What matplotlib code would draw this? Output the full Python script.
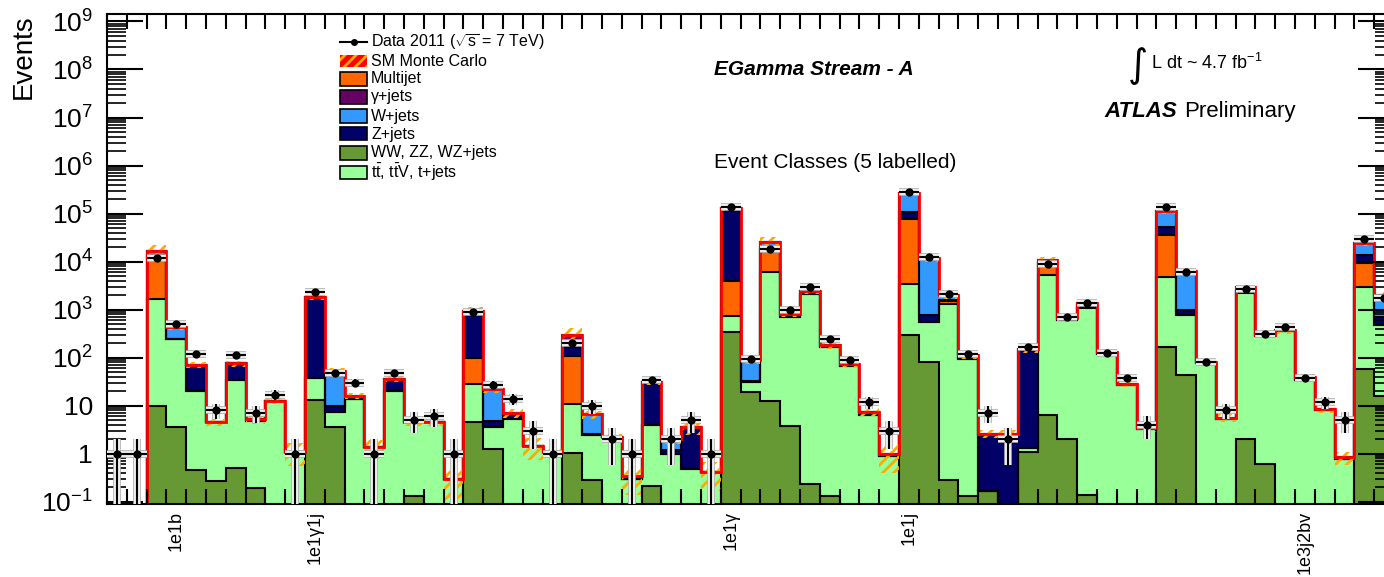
import numpy as np
import matplotlib
matplotlib.use("Agg")
import matplotlib.pyplot as plt
from matplotlib.patches import Rectangle
from matplotlib.lines import Line2D
from matplotlib.ticker import FixedLocator, FixedFormatter, NullFormatter

plt.rcParams['font.family'] = ['Liberation Sans', 'DejaVu Sans']
plt.rcParams['mathtext.fontset'] = 'custom'
plt.rcParams['mathtext.rm'] = 'Liberation Sans'
plt.rcParams['mathtext.it'] = 'Liberation Sans:italic'
plt.rcParams['mathtext.bf'] = 'Liberation Sans:bold'
plt.rcParams['hatch.linewidth'] = 2.0

# --- event classes (65 bins), contributions per process ---
n_bins = 65
ww_zz = [0, 0, 10, 3.6, 0.47, 0.27, 0.5, 0.19, 0, 0,
         13, 3.6, 0, 0, 0, 0.13, 0, 0, 4.6, 1.28,
         0, 0, 0, 1.04, 0.28, 0, 0, 0.21, 0, 0,
         0, 345, 19.4, 12.6, 3.8, 0.23, 0.13, 0, 0, 0,
         303, 81, 0.29, 0.13, 0.17, 0, 1.09, 6.5, 2.07, 0.14,
         0, 0, 0, 168, 43, 0, 0, 2.07, 0.6, 0,
         0, 0, 0, 57, 15.8]
ttbar = [0, 0, 1640, 239, 19.8, 4.3, 33.5, 4.6, 12.6, 1.1,
         24, 3.8, 14, 1.4, 20, 4.5, 4.6, 0.3, 24.4, 2.3,
         5.2, 1.45, 1.1, 9.7, 2.15, 2.2, 0.3, 3.85, 1.0, 0.48,
         0.42, 388, 11.6, 6090, 686, 2080, 168, 67.5, 6.3, 0.9,
         3200, 479, 1340, 92, 0, 0, 0.21, 5190, 603, 1090,
         118, 26.8, 3.35, 4630, 724, 78, 5.4, 2170, 284, 357,
         34, 8.1, 0.79, 2940, 459]
multijet = [0, 0, 12350, 0, 0, 0, 0, 0, 0, 0,
            0, 0, 0, 0, 0, 0, 0, 0, 71, 0,
            0, 0, 0, 96, 0, 0, 0, 0, 0, 0,
            0, 3170, 0, 11900, 0, 0, 0, 0, 0, 0,
            75500, 0, 160, 0, 0, 0, 0, 4300, 0, 110,
            0, 0, 0, 30800, 0, 0, 0, 230, 0, 0,
            0, 0, 0, 6150, 0]
z_jets = [0, 0, 0, 0, 51.7, 0, 42, 0.2, 0, 0,
          1813, 2.4, 0, 0, 16, 0, 0, 0, 700, 1.2,
          1.4, 0, 0, 61, 0.17, 0, 0, 27, 0.2, 3.0,
          0, 124100, 2, 500, 40, 390, 7, 4.5, 1.2, 0,
          31000, 210, 100, 8, 2.33, 2.5, 143.7, 0, 35, 100,
          7, 0, 0, 17400, 208, 0, 0, 200, 0, 0,
          0, 0, 0, 4450, 225]
w_jets = [0, 0, 2800, 194, 0, 0, 0, 0.2, 0, 0,
          0, 43, 2, 0, 0, 0, 0, 0, 150, 17.2,
          0, 0, 0, 0, 4.0, 0, 0, 0, 0.8, 0.1,
          0, 0, 56, 7300, 100, 0, 5, 3.5, 0, 0.1,
          154000, 10930, 400, 13, 0.1, 0.1, 5, 1200, 30, 80,
          5, 2.2, 0.15, 61000, 5425, 2, 0.2, 300, 16, 13,
          5, 0.4, 0.06, 11000, 1300]
gamma_jets = [0] * 20 + [0.4, 0, 0, 135, 0, 0, 0.05] + [0] * 38
mc_rel_unc = [0.15, 0.15, 0.35, 0.15, 0.15, 0.18, 0.15, 0.2, 0.15, 0.5,
              0.15, 0.15, 0.15, 0.4, 0.15, 0.2, 0.18, 0.7, 0.18, 0.15,
              0.2, 0.5, 0.2, 0.35, 0.18, 0.2, 0.6, 0.15, 0.2, 0.3,
              0.6, 0.12, 0.15, 0.25, 0.15, 0.15, 0.15, 0.15, 0.2, 0.6,
              0.12, 0.15, 0.15, 0.15, 0.2, 0.2, 0.15, 0.18, 0.15, 0.15,
              0.15, 0.15, 0.18, 0.12, 0.15, 0.15, 0.18, 0.15, 0.15, 0.15,
              0.15, 0.18, 0.3, 0.15, 0.15]
data_2011 = [1, 1, 12000, 515, 122, 8, 114, 7, 17, 1,
             2300, 47, 30, 1, 48, 5, 6, 1, 900, 27,
             14, 3, 1, 204, 10, 2, 1, 34, 2, 5,
             1, 138000, 94, 17900, 1000, 2900, 243, 89, 12, 3,
             285000, 12300, 2170, 118, 7, 2, 168, 8900, 710, 1380,
             126, 38, 4, 138000, 6100, 81, 8, 2750, 317, 437,
             38, 12, 5, 29000, 1730]
class_labels = {3: "1e1b", 10: "1e1\u03b31j", 31: "1e1\u03b3", 40: "1e1j", 60: "1e3j2bv"}
y_tick_values = [1e-1, 1, 1e1, 1e2, 1e3, 1e4, 1e5, 1e6, 1e7, 1e8, 1e9]
y_tick_labels = [r"$10^{-1}$", "1", "10", r"$10^{2}$", r"$10^{3}$", r"$10^{4}$",
                 r"$10^{5}$", r"$10^{6}$", r"$10^{7}$", r"$10^{8}$", r"$10^{9}$"]

process_colors = ["#669933", "#99ff99", "#ff6600", "#000066", "#3399ff", "#660066"]

W, H = 1384, 577
fig = plt.figure(figsize=(W / 100, H / 100), dpi=100)
ax = fig.add_axes([107 / W, 73 / H, 1287 / W, 490 / H])
ymin, ymax = 0.09, 1.43e9
floor = 1e-3

edges = np.arange(n_bins + 1)
centers = edges[:-1] + 0.5
stack = np.cumsum(np.vstack([ww_zz, ttbar, multijet, z_jets, w_jets, gamma_jets]), axis=0)

previous = np.full(n_bins, floor)
for layer, colour in zip(stack, process_colors):
    top = np.maximum(layer, floor)
    ax.stairs(top, edges, baseline=previous, fill=True, color=colour, lw=0, zorder=1)
    previous = top
for layer in stack:
    ax.stairs(np.maximum(layer, floor), edges, baseline=None, color="black", lw=1.5, zorder=1.2)

total = stack[-1]
unc = np.array(mc_rel_unc)
has_mc = total > 0
ax.bar(edges[:-1][has_mc], (2 * total * unc)[has_mc], bottom=(total * (1 - unc))[has_mc],
       width=1, align="edge", fill=False, hatch="///", edgecolor="#ffaa00", lw=0, zorder=1.3)
ax.stairs(np.where(has_mc, total, ymin * 1.01), edges, baseline=None, color="red", lw=2, zorder=1.4)

data = np.array(data_2011, dtype=float)
err_hi = np.sqrt(data)
err_lo = np.minimum(np.sqrt(data), data - floor)
for lw, col in [(5.5, "#b0b0b0"), (4, "white"), (1.6, "black")]:
    ax.errorbar(centers, data, xerr=0.5, yerr=[err_lo, err_hi], fmt="none",
                ecolor=col, elinewidth=lw, capsize=0, zorder=3)
ax.plot(centers, data, "o", color="black", ms=5, zorder=4)

ax.set_xlim(0, n_bins)
ax.set_yscale("log")
ax.set_ylim(ymin, ymax)
ax.set_axisbelow(False)
ax.xaxis.set_major_locator(FixedLocator(edges))
ax.tick_params(axis="x", which="major", direction="in", length=11, width=1.5,
               top=True, bottom=True, labelbottom=False)
ax.tick_params(axis="x", which="minor", length=0)
minor_values = [m * 10.0 ** e for e in range(-2, 10) for m in range(2, 10)]
minor_values = [v for v in minor_values if ymin <= v <= ymax]
ax.yaxis.set_major_locator(FixedLocator(y_tick_values))
ax.yaxis.set_major_formatter(FixedFormatter(y_tick_labels))
ax.yaxis.set_minor_locator(FixedLocator(minor_values))
ax.yaxis.set_minor_formatter(NullFormatter())
ax.tick_params(axis="y", which="major", direction="in", length=26, width=1.5,
               left=True, right=True, labelsize=19, pad=10)
ax.tick_params(axis="y", which="minor", direction="in", length=14, width=1.2,
               left=True, right=True)
for spine in ax.spines.values():
    spine.set_linewidth(1.5)

for b, text in class_labels.items():
    ax.text(b + 0.5, -0.015, text, transform=ax.get_xaxis_transform(), rotation=90,
            ha="center", va="top", fontsize=13)


def fx(x):
    return x / W


def fy(y):
    return 1 - y / H


fig.text(fx(24), fy(14), "Events", rotation=90, ha="center", va="top", fontsize=20)
fig.text(fx(714), fy(75), "EGamma Stream - A", fontsize=15, fontweight="bold",
         fontstyle="italic", va="baseline")
fig.text(fx(1128), fy(66), "\u222b", fontsize=28, va="center", family="DejaVu Sans")
fig.text(fx(1151), fy(63), r"L dt ~ 4.7 fb$^{-1}$", fontsize=13, va="center")
fig.text(fx(1104), fy(117), "ATLAS", fontsize=16, fontweight="bold", fontstyle="italic",
         va="baseline")
fig.text(fx(1184), fy(117), "Preliminary", fontsize=16, va="baseline")
fig.text(fx(714), fy(168), "Event Classes (5 labelled)", fontsize=15, va="baseline")

# legend
rows = [42, 61, 79, 97, 116, 134, 153, 172]
legend_text = [r"Data 2011 ($\sqrt{\rm s}$ = 7 TeV)", "SM Monte Carlo", "Multijet",
               "\u03b3+jets", "W+jets", "Z+jets", "WW, ZZ, WZ+jets",
               r"t$\bar{\rm t}$, t$\bar{\rm t}$V, t+jets"]
legend_colors = ["#ff6600", "#660066", "#3399ff", "#000066", "#669933", "#99ff99"]
fig.add_artist(Line2D([fx(340), fx(367)], [fy(rows[0]), fy(rows[0])], color="black", lw=1.5))
fig.add_artist(Line2D([fx(353.5)], [fy(rows[0])], marker="o", color="black", ms=4))
fig.add_artist(Rectangle((fx(340), fy(rows[1] + 6)), 27 / W, 12 / H, facecolor="red",
                         edgecolor="#ffaa00", hatch="///", lw=0))
for row, colour in zip(rows[2:], legend_colors):
    fig.add_artist(Rectangle((fx(340), fy(row + 6.5)), 27 / W, 13 / H, facecolor=colour,
                             edgecolor="black", lw=1.2))
for row, text in zip(rows, legend_text):
    fig.text(fx(371), fy(row), text, fontsize=11.5, va="center")

fig.savefig("out.png", dpi=100)
